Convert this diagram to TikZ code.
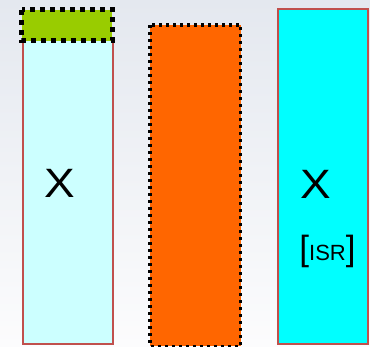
\documentclass[tikz,border=0pt]{standalone}
\usepackage{fontspec}
\setmainfont{Liberation Sans}
\definecolor{bgtop}{HTML}{E4E8EF}
\definecolor{bgbot}{HTML}{FCFCFD}
\definecolor{lightcyan}{HTML}{CCFFFF}
\definecolor{brightcyan}{HTML}{00FFFF}
\definecolor{redline}{HTML}{C0504D}
\definecolor{greenfill}{HTML}{99CC00}
\definecolor{orangefill}{HTML}{FF6600}
\tikzset{
  redbox/.style={draw=redline, line width=2pt},
  dotbox/.style={draw=black, line width=#1, dash pattern=on #1 off #1},
  bigtext/.style={font=\fontsize{41}{41}\selectfont, inner sep=0pt}
}
\begin{document}
\begin{tikzpicture}[x=1pt,y=-1pt]
\useasboundingbox (0,0) rectangle (370,347);
\shade[top color=bgtop, bottom color=bgbot] (0,0) rectangle (370,347);
% left column
\path[fill=lightcyan, redbox] (22.5,40) rectangle (112.5,344);
\path[fill=greenfill, dotbox=5pt] (21.5,10) rectangle (112,41);
% middle column
\path[fill=orangefill, dotbox=3.5pt] (150,25) rectangle (240.5,346.5);
% right column
\path[fill=brightcyan, redbox] (277.5,9) rectangle (368,344);
% texts
\node[bigtext] (x1) at (59.5,183.5) {\scalebox{1.12}[1]{X}};
\node[bigtext] (x2) at (315.5,184) {\scalebox{1.12}[1]{X}};
\node[inner sep=0pt, anchor=base] (isr) at (327.5,261)
  {{\fontsize{35}{35}\selectfont[}{\fontsize{22}{22}\selectfont ISR}{\fontsize{35}{35}\selectfont]}};
\end{tikzpicture}
\end{document}
